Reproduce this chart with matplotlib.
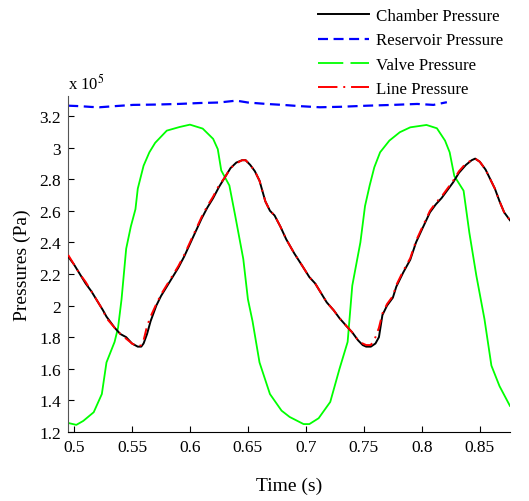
import matplotlib.pyplot as plt
from matplotlib.lines import Line2D

plt.rcParams['font.family'] = ['Liberation Serif', 'DejaVu Serif']
plt.rcParams['mathtext.fontset'] = 'stix'

# Chamber pressure (x 1e5 Pa)
t_chamber = [0.495, 0.500, 0.505, 0.510, 0.515, 0.520, 0.525, 0.528, 0.535, 0.540,
             0.545, 0.550, 0.555, 0.558, 0.560, 0.563, 0.566, 0.571, 0.575, 0.580,
             0.585, 0.590, 0.595, 0.600, 0.605, 0.610, 0.615, 0.620, 0.625, 0.630,
             0.635, 0.640, 0.645, 0.648, 0.652, 0.656, 0.660, 0.665, 0.669, 0.673,
             0.678, 0.683, 0.690, 0.697, 0.703, 0.708, 0.713, 0.718, 0.724, 0.729,
             0.735, 0.740, 0.745, 0.749, 0.752, 0.756, 0.760, 0.763, 0.766, 0.770,
             0.775, 0.778, 0.784, 0.790, 0.795, 0.800, 0.807, 0.812, 0.817, 0.822,
             0.827, 0.832, 0.838, 0.843, 0.846, 0.850, 0.855, 0.859, 0.863, 0.867,
             0.871, 0.876]
p_chamber = [2.31, 2.26, 2.20, 2.14, 2.09, 2.03, 1.97, 1.93, 1.86, 1.82,
             1.80, 1.76, 1.74, 1.74, 1.76, 1.82, 1.90, 2.00, 2.06, 2.12,
             2.18, 2.24, 2.31, 2.39, 2.47, 2.55, 2.62, 2.68, 2.75, 2.81,
             2.87, 2.905, 2.92, 2.92, 2.89, 2.85, 2.79, 2.66, 2.60, 2.57,
             2.50, 2.42, 2.33, 2.25, 2.18, 2.14, 2.08, 2.02, 1.97, 1.92,
             1.87, 1.83, 1.78, 1.75, 1.74, 1.74, 1.76, 1.80, 1.94, 2.00,
             2.05, 2.12, 2.21, 2.29, 2.40, 2.48, 2.59, 2.64, 2.68, 2.73,
             2.78, 2.84, 2.89, 2.92, 2.93, 2.91, 2.86, 2.80, 2.74, 2.66,
             2.59, 2.54]

# Line pressure follows the chamber closely, leads slightly on the rise
t_line = t_chamber
p_line = [2.32, 2.26, 2.20, 2.15, 2.09, 2.03, 1.97, 1.92, 1.86, 1.82,
          1.79, 1.76, 1.74, 1.75, 1.78, 1.87, 1.93, 2.01, 2.07, 2.13,
          2.19, 2.25, 2.32, 2.40, 2.48, 2.56, 2.63, 2.69, 2.76, 2.81,
          2.87, 2.90, 2.92, 2.92, 2.89, 2.85, 2.79, 2.66, 2.60, 2.57,
          2.50, 2.42, 2.33, 2.25, 2.18, 2.14, 2.08, 2.02, 1.97, 1.92,
          1.87, 1.83, 1.78, 1.76, 1.75, 1.75, 1.80, 1.86, 1.95, 2.01,
          2.06, 2.13, 2.22, 2.30, 2.41, 2.49, 2.60, 2.65, 2.69, 2.74,
          2.79, 2.85, 2.90, 2.92, 2.93, 2.91, 2.86, 2.80, 2.74, 2.66,
          2.59, 2.54]

# Valve pressure
t_valve = [0.495, 0.502, 0.508, 0.517, 0.524, 0.528, 0.535, 0.538, 0.541, 0.545,
           0.549, 0.553, 0.555, 0.560, 0.565, 0.570, 0.580, 0.591, 0.600, 0.611,
           0.620, 0.624, 0.627, 0.634, 0.639, 0.646, 0.650, 0.654, 0.660, 0.669,
           0.679, 0.686, 0.698, 0.703, 0.711, 0.721, 0.729, 0.736, 0.740, 0.747,
           0.751, 0.755, 0.759, 0.764, 0.772, 0.781, 0.790, 0.804, 0.813, 0.820,
           0.824, 0.828, 0.836, 0.841, 0.847, 0.854, 0.860, 0.867, 0.876]
p_valve = [1.257, 1.245, 1.27, 1.325, 1.44, 1.64, 1.77, 1.86, 2.04, 2.36,
           2.50, 2.61, 2.74, 2.885, 2.97, 3.03, 3.107, 3.13, 3.145, 3.12,
           3.055, 2.99, 2.855, 2.76, 2.57, 2.295, 2.04, 1.90, 1.64, 1.44,
           1.335, 1.295, 1.25, 1.25, 1.287, 1.39, 1.60, 1.77, 2.126, 2.40,
           2.63, 2.76, 2.875, 2.97, 3.044, 3.097, 3.128, 3.143, 3.122, 3.044,
           2.97, 2.82, 2.727, 2.46, 2.19, 1.915, 1.62, 1.49, 1.365]

# Reservoir pressure
t_res = [0.495, 0.505, 0.515, 0.522, 0.535, 0.551, 0.570, 0.590, 0.609, 0.625,
         0.640, 0.650, 0.666, 0.680, 0.695, 0.712, 0.730, 0.753, 0.775, 0.796,
         0.810, 0.8216]
p_res = [3.265, 3.262, 3.257, 3.255, 3.262, 3.270, 3.272, 3.276, 3.282, 3.285,
         3.297, 3.285, 3.276, 3.270, 3.262, 3.255, 3.258, 3.265, 3.270, 3.276,
         3.270, 3.287]

xticks = [0.5, 0.55, 0.6, 0.65, 0.7, 0.75, 0.8, 0.85]
yticks = [1.2, 1.4, 1.6, 1.8, 2.0, 2.2, 2.4, 2.6, 2.8, 3.0, 3.2]
ytick_labels = ['1.2', '1.4', '1.6', '1.8', '2', '2.2', '2.4', '2.6', '2.8', '3', '3.2']
xtick_labels = ['0.5', '0.55', '0.6', '0.65', '0.7', '0.75', '0.8', '0.85']

fig = plt.figure(figsize=(5.29, 5.02), dpi=100)
ax = fig.add_axes([0.1285, 0.1375, 0.8355, 0.6695])

res_dash = (0, (4.5, 2.5))
line_dash = (0, (6, 3, 1, 3))

ax.plot(t_chamber, p_chamber, color='black', lw=1.4, zorder=3)
ax.plot(t_res, p_res, color='#0000ff', lw=1.6, linestyle=res_dash, zorder=2)
ax.plot(t_valve, p_valve, color='#00ff00', lw=1.3, zorder=2)
ax.plot(t_line, p_line, color='red', lw=1.4, linestyle=line_dash, zorder=4)

ax.set_xlim(0.4948, 0.876)
ax.set_ylim(1.2, 3.327)
ax.set_xticks(xticks)
ax.set_xticklabels(xtick_labels)
ax.set_yticks(yticks)
ax.set_yticklabels(ytick_labels)
ax.tick_params(direction='in', length=4, width=0.8, labelsize=12.5, pad=5)
for side in ['top', 'right']:
    ax.spines[side].set_visible(False)
ax.spines['left'].set_color('#555555')

ax.set_xlabel('Time (s)', fontsize=14, labelpad=16)
ax.set_ylabel('Pressures (Pa)', fontsize=14, labelpad=6)
fig.text(0.1285, 0.8127, r'x 10$^{5}$', fontsize=12, ha='left', va='bottom')

handles = [
    Line2D([], [], color='black', lw=1.4),
    Line2D([], [], color='#0000ff', lw=1.6, linestyle=res_dash),
    Line2D([], [], color='#00ff00', lw=1.3, linestyle=(0, (14, 4))),
    Line2D([], [], color='red', lw=1.4, linestyle=(0, (10, 3, 1, 3))),
]
labels = ['Chamber Pressure', 'Reservoir Pressure', 'Valve Pressure', 'Line Pressure']
fig.legend(handles, labels, loc='upper right', bbox_to_anchor=(0.969, 1.0),
           frameon=False, fontsize=12.2, handlelength=3.0, handletextpad=0.4,
           labelspacing=0.48, borderaxespad=0.15)

fig.savefig('out.png', dpi=100)
